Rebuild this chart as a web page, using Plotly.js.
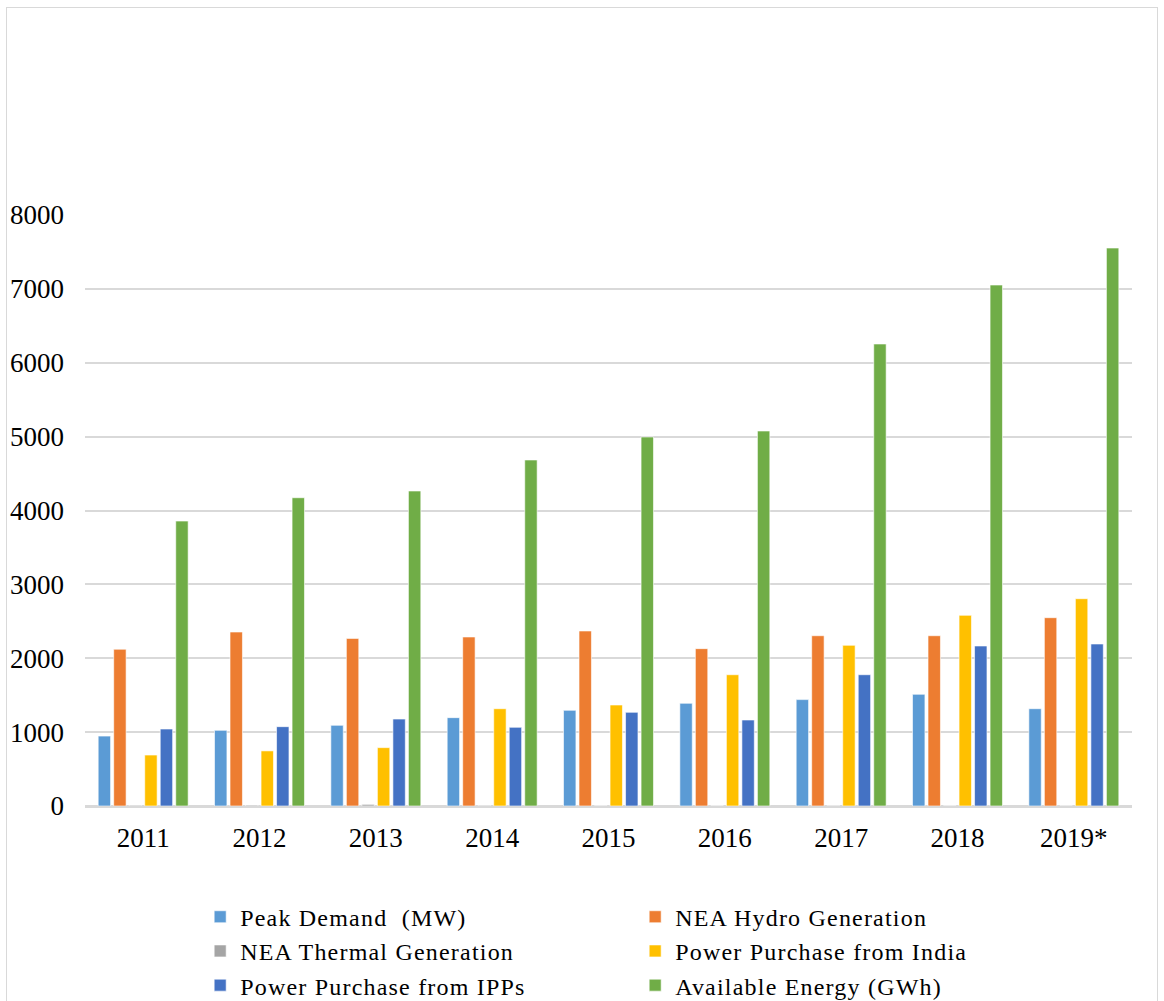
<!DOCTYPE html>
<html>
<head>
<meta charset="utf-8">
<script src="https://cdn.plot.ly/plotly-3.0.1.min.js"></script>
<style>
  html, body { margin: 0; padding: 0; background: #fff; overflow: hidden; }
  #chart { width: 1164px; height: 1001px; }
  #frame {
    position: absolute; left: 6px; top: 7px; width: 1152px; height: 1100px;
    border: 1px solid #d9d9d9; pointer-events: none; box-sizing: border-box;
  }
  #chart .legendtext { letter-spacing: 1.2px; }
</style>
</head>
<body>
<div id="chart"></div>
<div id="frame"></div>
<script>
// Fiscal years
const years = ["2011", "2012", "2013", "2014", "2015", "2016", "2017", "2018", "2019*"];

// Series values
const peakDemand     = [946, 1024, 1092, 1196, 1295, 1390, 1440, 1512, 1317];
const neaHydro       = [2122, 2355, 2269, 2288, 2369, 2130, 2305, 2305, 2549];
const neaThermal     = [10, 12, 22, 9, 4, 6, 8, 5, 4];
const purchaseIndia  = [690, 746, 790, 1317, 1367, 1777, 2175, 2581, 2806];
const purchaseIPPs   = [1042, 1074, 1177, 1065, 1268, 1164, 1777, 2166, 2193];
const availableEnergy = [3857, 4173, 4264, 4684, 4995, 5076, 6254, 7052, 7553];

const seriesNames = [
  "Peak Demand  (MW)",
  "NEA Hydro Generation",
  "NEA Thermal Generation",
  "Power Purchase from India",
  "Power Purchase from IPPs",
  "Available Energy (GWh)"
];
const seriesValues = [peakDemand, neaHydro, neaThermal, purchaseIndia, purchaseIPPs, availableEnergy];
const seriesColors = ["#5B9BD5", "#ED7D31", "#A5A5A5", "#FFC000", "#4472C4", "#70AD47"];

const traces = seriesNames.map((name, i) => ({
  type: "bar",
  name: name,
  x: years,
  y: seriesValues[i],
  marker: { color: seriesColors[i], line: { color: "rgba(255,255,255,0.6)", width: 1 } },
  hoverinfo: "x+y+name"
}));

const serif = "'Liberation Serif', 'Times New Roman', serif";

const layout = {
  width: 1164,
  height: 1001,
  margin: { l: 85, r: 32, t: 215, b: 195, autoexpand: false },
  paper_bgcolor: "#fff",
  plot_bgcolor: "#fff",
  font: { family: serif, size: 27, color: "#000" },
  barmode: "group",
  bargap: 0.2,
  bargroupgap: 0.2,
  showlegend: true,
  legend: {
    orientation: "h",
    x: 0.110,
    xanchor: "left",
    y: -0.150,
    yanchor: "top",
    entrywidth: 390,
    entrywidthmode: "pixels",
    font: { family: serif, size: 24, color: "#000" },
    traceorder: "normal",
    itemclick: false
  },
  xaxis: {
    type: "category",
    showgrid: false,
    showline: true,
    linecolor: "#d9d9d9",
    linewidth: 1.5,
    ticks: "",
    tickfont: { family: serif, size: 27, color: "#000" },
    ticklabelstandoff: 7
  },
  yaxis: {
    range: [0, 8000],
    dtick: 1000,
    tick0: 0,
    showgrid: true,
    gridcolor: "#d9d9d9",
    gridwidth: 1.5,
    zeroline: true,
    zerolinecolor: "#d9d9d9",
    zerolinewidth: 1.5,
    showline: false,
    ticks: "",
    tickfont: { family: serif, size: 27, color: "#000" },
    ticklabelstandoff: 20,
    fixedrange: true
  }
};

Plotly.newPlot("chart", traces, layout, { displayModeBar: false });
</script>
</body>
</html>
